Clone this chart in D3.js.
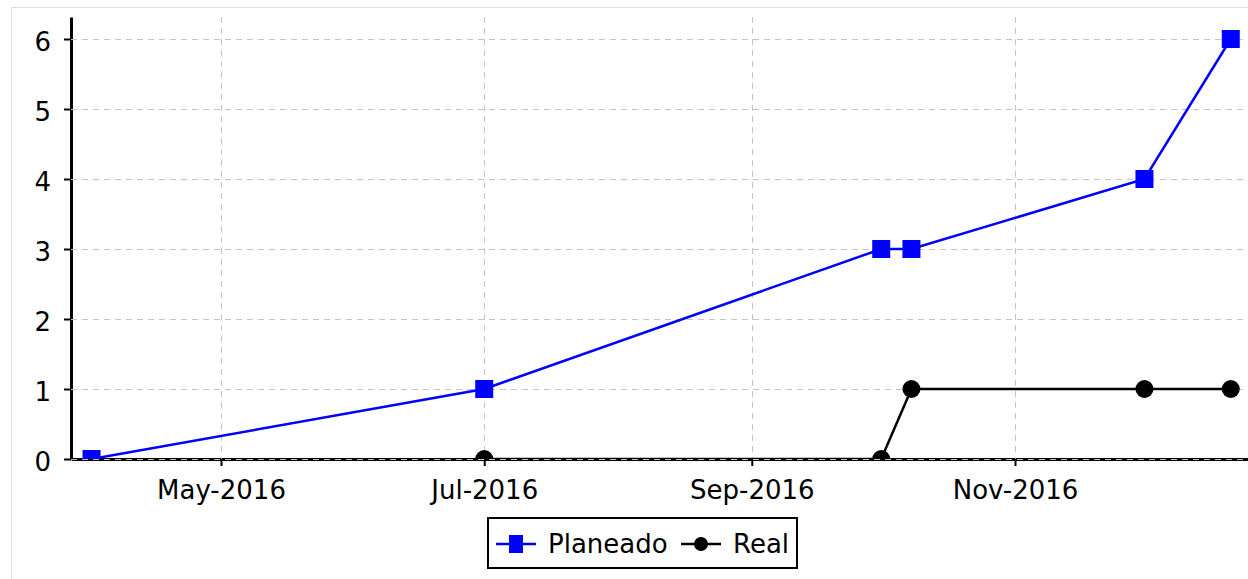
<!DOCTYPE html>
<html>
<head>
<meta charset="utf-8">
<script src="https://cdn.jsdelivr.net/npm/d3@7/dist/d3.min.js"></script>
<style>
  html, body { margin: 0; padding: 0; background: #fff; }
  svg { display: block; font-family: 'DejaVu Sans', Verdana, sans-serif; }
</style>
</head>
<body>
<svg id="chart" width="1248" height="579"></svg>
<script>
// data
const planDates = ['2016-04-01', '2016-07-01', '2016-10-01', '2016-10-08', '2016-12-01', '2016-12-21'];
const planValues = [0, 1, 3, 3, 4, 6];
const realDates = ['2016-07-01', '2016-10-01', '2016-10-08', '2016-12-01', '2016-12-21'];
const realValues = [0, 0, 1, 1, 1];
const xTickDates = ['2016-05-01', '2016-07-01', '2016-09-01', '2016-11-01'];
const yTickValues = [0, 1, 2, 3, 4, 5, 6];
const seriesNames = ['Planeado', 'Real'];

const parse = d3.timeParse('%Y-%m-%d');
const fmt = d3.timeFormat('%b-%Y');

const W = 1248, H = 579;
const plotL = 71, plotR = 1248, plotT = 17, plotB = 459;

const svg = d3.select('#chart');

// outer light frame
svg.append('rect')
    .attr('x', 11.5).attr('y', 7.5)
    .attr('width', W).attr('height', H)
    .attr('fill', 'none')
    .attr('stroke', '#dedede')
    .attr('stroke-width', 1);

// x scale: anchored on month ticks, then widened to the plot area
const x = d3.scaleTime()
    .domain([parse('2016-05-01'), parse('2016-11-01')])
    .range([221, 1015]);
x.domain([x.invert(plotL), x.invert(plotR)]).range([plotL, plotR]);

const y = d3.scaleLinear()
    .domain([0, (plotB - plotT) / 70])
    .range([plotB, plotT]);

// axes
const xAxis = d3.axisBottom(x)
    .tickValues(xTickDates.map(parse))
    .tickFormat(fmt)
    .tickSize(7)
    .tickSizeOuter(0)
    .tickPadding(12);

const yAxis = d3.axisLeft(y)
    .tickValues(yTickValues)
    .tickFormat(d3.format('d'))
    .tickSize(7)
    .tickSizeOuter(0)
    .tickPadding(13);

const gx = svg.append('g')
    .attr('transform', `translate(0,${plotB})`)
    .call(xAxis);
gx.selectAll('text')
    .attr('font-size', 26)
    .attr('font-family', "'DejaVu Sans', Verdana, sans-serif")
    .attr('fill', '#000')
    .attr('dy', '0.8em');

const gy = svg.append('g')
    .attr('transform', `translate(${plotL},0)`)
    .call(yAxis);
gy.selectAll('text')
    .attr('font-size', 26)
    .attr('font-family', "'DejaVu Sans', Verdana, sans-serif")
    .attr('fill', '#000')
    .attr('dy', '0.45em');

[gx, gy].forEach((g) => {
  g.select('.domain').attr('stroke', '#000').attr('stroke-width', 3);
  g.selectAll('.tick line').attr('stroke', '#000').attr('stroke-width', 2);
});

// grid, drawn over the axis lines
const grid = svg.append('g')
    .attr('stroke', '#c4c4c4')
    .attr('stroke-width', 1)
    .attr('stroke-dasharray', '6,5');

grid.selectAll('line.h')
    .data(yTickValues)
    .join('line')
    .attr('class', 'h')
    .attr('x1', plotL).attr('x2', plotR)
    .attr('y1', (d) => Math.round(y(d)) + 0.5)
    .attr('y2', (d) => Math.round(y(d)) + 0.5);

grid.selectAll('line.v')
    .data(xTickDates.map(parse))
    .join('line')
    .attr('class', 'v')
    .attr('x1', (d) => Math.round(x(d)) + 0.5)
    .attr('x2', (d) => Math.round(x(d)) + 0.5)
    .attr('y1', plotT).attr('y2', plotB);

// clip data to the plot area
svg.append('clipPath')
    .attr('id', 'plot-clip')
    .append('rect')
    .attr('x', plotL).attr('y', 0)
    .attr('width', plotR - plotL + 20).attr('height', plotB);

const plot = svg.append('g').attr('clip-path', 'url(#plot-clip)');

const planData = planDates.map((d, i) => ({date: parse(d), value: planValues[i]}));
const realData = realDates.map((d, i) => ({date: parse(d), value: realValues[i]}));

const line = d3.line()
    .x((d) => x(d.date))
    .y((d) => y(d.value));

plot.append('path')
    .datum(planData)
    .attr('d', line)
    .attr('fill', 'none')
    .attr('stroke', '#0000ff')
    .attr('stroke-width', 2.5);

plot.append('path')
    .datum(realData)
    .attr('d', line)
    .attr('fill', 'none')
    .attr('stroke', '#000')
    .attr('stroke-width', 2.5);

const sq = 18;
plot.selectAll('rect.plan')
    .data(planData)
    .join('rect')
    .attr('class', 'plan')
    .attr('x', (d) => x(d.date) - sq / 2)
    .attr('y', (d) => y(d.value) - sq / 2)
    .attr('width', sq).attr('height', sq)
    .attr('fill', '#0000ff');

plot.selectAll('circle.real')
    .data(realData)
    .join('circle')
    .attr('class', 'real')
    .attr('cx', (d) => x(d.date))
    .attr('cy', (d) => y(d.value))
    .attr('r', 9)
    .attr('fill', '#000');

// legend
const legend = svg.append('g').attr('transform', 'translate(488,518)');
legend.append('rect')
    .attr('width', 309).attr('height', 50)
    .attr('fill', '#fff')
    .attr('stroke', '#000')
    .attr('stroke-width', 2);

const cy = 26;
const items = legend.selectAll('g.item')
    .data(seriesNames)
    .join('g')
    .attr('class', 'item')
    .attr('transform', (d, i) => `translate(${i === 0 ? 8 : 193},0)`);

items.append('line')
    .attr('x1', 0).attr('x2', 40)
    .attr('y1', cy).attr('y2', cy)
    .attr('stroke', (d, i) => i === 0 ? '#0000ff' : '#000')
    .attr('stroke-width', 2.5);

items.filter((d, i) => i === 0)
    .append('rect')
    .attr('x', 13).attr('y', cy - 9)
    .attr('width', 14).attr('height', 18)
    .attr('fill', '#0000ff');

items.filter((d, i) => i === 1)
    .append('circle')
    .attr('cx', 20).attr('cy', cy)
    .attr('r', 7)
    .attr('fill', '#000');

items.append('text')
    .attr('x', 52)
    .attr('y', cy + 9)
    .attr('font-size', 26)
    .attr('fill', '#000')
    .text((d) => d);
</script>
</body>
</html>
